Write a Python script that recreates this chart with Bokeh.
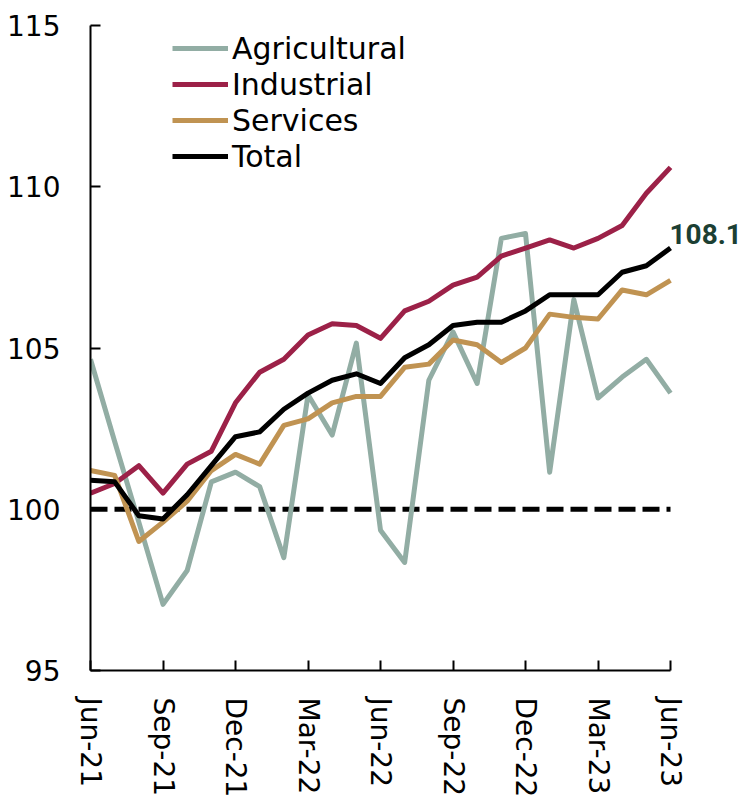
from bokeh.plotting import figure
from bokeh.models import Range1d, FixedTicker, Label, Legend, LegendItem
from bokeh.embed import file_html
from bokeh.resources import INLINE

months = ["Jun-21", "Jul-21", "Aug-21", "Sep-21", "Oct-21", "Nov-21", "Dec-21",
          "Jan-22", "Feb-22", "Mar-22", "Apr-22", "May-22", "Jun-22", "Jul-22",
          "Aug-22", "Sep-22", "Oct-22", "Nov-22", "Dec-22", "Jan-23", "Feb-23",
          "Mar-23", "Apr-23", "May-23", "Jun-23"]

agricultural = [104.65, 102.1, 99.6, 97.05, 98.1, 100.85, 101.15, 100.7, 98.5, 103.55,
                102.3, 105.15, 99.35, 98.35, 104.0, 105.5, 103.9, 108.4, 108.55, 101.15,
                106.5, 103.45, 104.1, 104.65, 103.6]
industrial = [100.5, 100.8, 101.35, 100.5, 101.4, 101.8, 103.3, 104.25, 104.65, 105.4,
              105.75, 105.7, 105.3, 106.15, 106.45, 106.95, 107.2, 107.85, 108.1, 108.35,
              108.1, 108.4, 108.8, 109.8, 110.6]
services = [101.2, 101.05, 99.0, 99.6, 100.25, 101.2, 101.7, 101.4, 102.6, 102.8,
            103.3, 103.5, 103.5, 104.4, 104.5, 105.25, 105.1, 104.55, 105.0, 106.05,
            105.95, 105.9, 106.8, 106.65, 107.1]
total = [100.9, 100.85, 99.8, 99.7, 100.45, 101.35, 102.25, 102.4, 103.1, 103.6,
         104.0, 104.2, 103.9, 104.7, 105.1, 105.7, 105.8, 105.8, 106.15, 106.65,
         106.65, 106.65, 107.35, 107.55, 108.1]
baseline = [100.0] * len(months)

tick_idx = [0, 3, 6, 9, 12, 15, 18, 21, 24]
y_ticks = [95, 100, 105, 110, 115]
last_label = "108.1"

x = list(range(len(months)))
n_last = len(months) - 1

FONT = "DejaVu Sans"

# frame: 90..743 px wide, month spacing ~24.17 px -> extra room right for the end label
x_end = n_last * 653.0 / 580.0

p = figure(width=743, height=801, output_backend="svg", toolbar_location=None,
           x_range=Range1d(0, x_end), y_range=Range1d(95, 115),
           min_border_left=90, min_border_right=0, min_border_top=25,
           min_border_bottom=131)
p.outline_line_color = None
p.xgrid.visible = False
p.ygrid.visible = False
p.background_fill_color = "white"
p.border_fill_color = "white"

p.line(x, baseline, line_color="black", line_width=5, line_dash="17 7")
r_ag = p.line(x, agricultural, line_color="#92ADA4", line_width=5, line_join="round")
r_in = p.line(x, industrial, line_color="#9C2148", line_width=5, line_join="round")
r_se = p.line(x, services, line_color="#C09352", line_width=5, line_join="round")
r_to = p.line(x, total, line_color="black", line_width=5, line_join="round")

legend = Legend(items=[
    LegendItem(label="Agricultural", renderers=[r_ag]),
    LegendItem(label="Industrial", renderers=[r_in]),
    LegendItem(label="Services", renderers=[r_se]),
    LegendItem(label="Total", renderers=[r_to]),
], location=(82, 496))
legend.background_fill_alpha = 0
legend.border_line_color = None
legend.padding = 0
legend.margin = 0
legend.spacing = 0
legend.glyph_width = 56
legend.glyph_height = 36
legend.label_height = 36
legend.label_standoff = 4
legend.label_text_font = FONT
legend.label_text_font_size = "30px"
legend.label_text_color = "black"
p.add_layout(legend)

p.xaxis.ticker = FixedTicker(ticks=tick_idx)
p.xaxis.bounds = (0, n_last)
p.xaxis.major_label_overrides = {i: months[i] for i in tick_idx}
p.xaxis.major_label_orientation = "vertical"
p.yaxis.ticker = FixedTicker(ticks=y_ticks)
for ax in (p.xaxis[0], p.yaxis[0]):
    ax.axis_line_color = "black"
    ax.axis_line_width = 2
    ax.major_tick_line_color = "black"
    ax.major_tick_line_width = 2
    ax.major_tick_in = 10
    ax.major_tick_out = 0
    ax.minor_tick_line_color = None
    ax.major_label_text_font = FONT
    ax.major_label_text_font_size = "28px"
    ax.major_label_text_color = "black"
p.xaxis.major_label_standoff = 27
p.yaxis.major_label_standoff = 30

lab = Label(x=n_last, y=total[-1], text=last_label, x_offset=-1, y_offset=14,
            text_baseline="alphabetic", text_align="left",
            text_font="Roboto", text_font_style="bold", text_font_size="28px",
            text_color="#1C3F33")
p.add_layout(lab)

open("out.html", "w").write(file_html(p, INLINE))
